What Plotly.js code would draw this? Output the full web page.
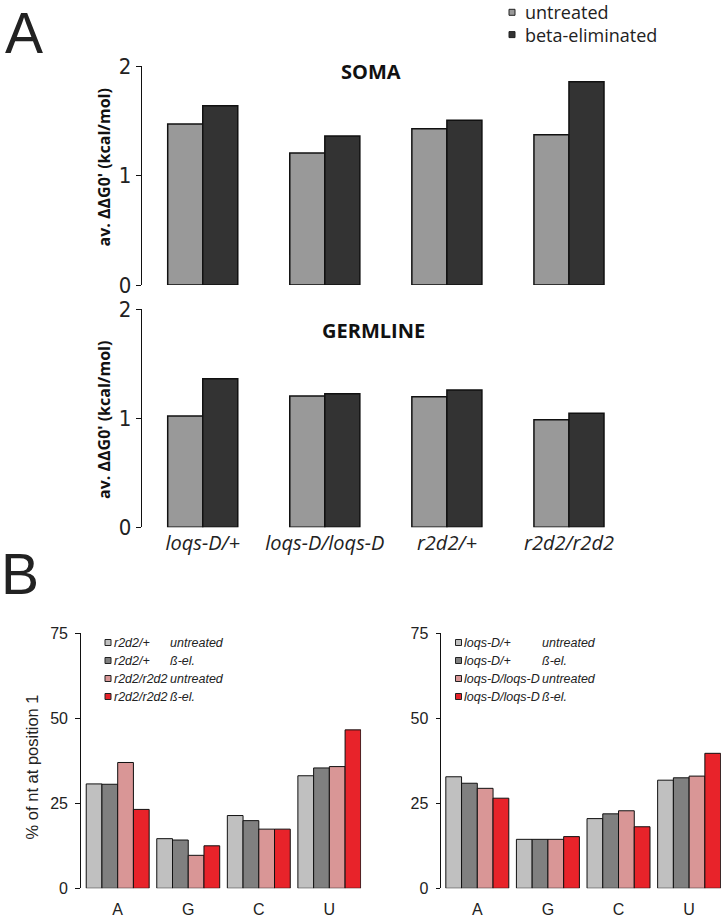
<!DOCTYPE html>
<html>
<head>
<meta charset="utf-8">
<script src="https://cdn.plot.ly/plotly-3.0.1.min.js"></script>
<style>html,body{margin:0;padding:0;background:#fff;}#chart{width:726px;height:918px;}</style>
</head>
<body>
<div id="chart"></div>
<script>
// ---------- data ----------
const genotypesA = ['loqs-D/+', 'loqs-D/loqs-D', 'r2d2/+', 'r2d2/r2d2'];
const somaUntreated = [1.470, 1.205, 1.427, 1.373];
const somaBeta      = [1.638, 1.361, 1.504, 1.857];
const germUntreated = [1.021, 1.205, 1.198, 0.987];
const germBeta      = [1.363, 1.226, 1.260, 1.046];
const yTicksA = [0, 1, 2];

const nucleotides = ['A', 'G', 'C', 'U'];
const r2d2HetUntreated = [30.7, 14.6, 21.4, 33.1];
const r2d2HetBeta      = [30.6, 14.2, 19.9, 35.4];
const r2d2MutUntreated = [37.0, 9.7, 17.4, 35.8];
const r2d2MutBeta      = [23.2, 12.5, 17.4, 46.6];
const loqsHetUntreated = [32.8, 14.4, 20.5, 31.8];
const loqsHetBeta      = [30.9, 14.4, 21.9, 32.5];
const loqsMutUntreated = [29.4, 14.4, 22.8, 33.0];
const loqsMutBeta      = [26.5, 15.2, 18.1, 39.7];
const yTicksB = [0, 25, 50, 75];

const legendA = ['untreated', 'beta-eliminated'];
const legendLeftGeno = ['r2d2/+', 'r2d2/+', 'r2d2/r2d2', 'r2d2/r2d2'];
const legendRightGeno = ['loqs-D/+', 'loqs-D/+', 'loqs-D/loqs-D', 'loqs-D/loqs-D'];
const legendTreat = ['untreated', 'ß-el.', 'untreated', 'ß-el.'];

// ---------- styles ----------
const W = 726, H = 918;
const px = x => x / W;
const py = y => 1 - y / H;
const colA = ['#999999', '#333333'];
const colB = ['#c0c0c0', '#808080', '#d99696', '#e8232a'];
const narrow = "'Liberation Sans Narrow', 'DejaVu Sans Condensed', 'Liberation Sans', sans-serif";
const open = "'Open Sans', sans-serif";
const arial = "'Liberation Sans', Arial, sans-serif";

const wA = 0.287;
function barA(x, y, i, ax) {
  return {type: 'bar', x: x, y: y, xaxis: 'x' + ax, yaxis: 'y' + ax,
    width: wA, offset: i === 0 ? -wA : 0, showlegend: false,
    name: legendA[i],
    marker: {color: colA[i], line: {color: '#111111', width: 1.5}}, cliponaxis: false};
}
const wB = 0.223;
function barB(x, y, i, ax, name) {
  return {type: 'bar', x: x, y: y, xaxis: 'x' + ax, yaxis: 'y' + ax,
    width: wB, offset: -2 * wB + i * wB, showlegend: false, name: name,
    marker: {color: colB[i], line: {color: '#111111', width: 1}}, cliponaxis: false};
}

const traces = [
  barA(genotypesA, somaUntreated, 0, ''),
  barA(genotypesA, somaBeta, 1, ''),
  barA(genotypesA, germUntreated, 0, '2'),
  barA(genotypesA, germBeta, 1, '2'),
  barB(nucleotides, r2d2HetUntreated, 0, '3', 'r2d2/+ untreated'),
  barB(nucleotides, r2d2HetBeta, 1, '3', 'r2d2/+ ß-el.'),
  barB(nucleotides, r2d2MutUntreated, 2, '3', 'r2d2/r2d2 untreated'),
  barB(nucleotides, r2d2MutBeta, 3, '3', 'r2d2/r2d2 ß-el.'),
  barB(nucleotides, loqsHetUntreated, 0, '4', 'loqs-D/+ untreated'),
  barB(nucleotides, loqsHetBeta, 1, '4', 'loqs-D/+ ß-el.'),
  barB(nucleotides, loqsMutUntreated, 2, '4', 'loqs-D/loqs-D untreated'),
  barB(nucleotides, loqsMutBeta, 3, '4', 'loqs-D/loqs-D ß-el.')
];
traces[0].xaxis = 'x'; traces[0].yaxis = 'y';
traces[1].xaxis = 'x'; traces[1].yaxis = 'y';

const yAxisA = (dom, anchor) => ({domain: dom, anchor: anchor, range: [0, 2], tickvals: yTicksA,
  showline: true, linecolor: '#111', linewidth: 1, ticks: 'outside', ticklen: 5, tickwidth: 1, tickcolor: '#111',
  showgrid: false, zeroline: false, fixedrange: true,
  tickfont: {family: narrow, size: 22, color: '#222'}, ticklabelstandoff: 0});
const yAxisB = (dom, anchor) => ({domain: dom, anchor: anchor, range: [0, 75], tickvals: yTicksB,
  showline: true, linecolor: '#111', linewidth: 1.3, ticks: 'outside', ticklen: 4.5, tickwidth: 1.3, tickcolor: '#111',
  showgrid: false, zeroline: false, fixedrange: true,
  tickfont: {family: arial, size: 16, color: '#222'}, ticklabelstandoff: 4});

const annotations = [];
function ann(text, x, y, opts) {
  annotations.push(Object.assign({text: text, x: px(x), y: py(y), xref: 'paper', yref: 'paper',
    showarrow: false, xanchor: 'center', yanchor: 'middle'}, opts));
}
ann('A', 4, 33.3, {xanchor: 'left', borderpad: 0, font: {family: arial, size: 57, color: '#222'}});
ann('B', 0, 574.3, {xanchor: 'left', borderpad: 0, font: {family: arial, size: 57, color: '#222'}});
ann('<b>SOMA</b>', 371, 71.7, {font: {family: open, size: 20, color: '#111'}});
ann('<b>GERMLINE</b>', 373, 330, {font: {family: open, size: 20, color: '#111'}});
const yTitleA = "<b>av. ΔΔG0' (kcal/mol)</b>";
ann(yTitleA, 104, 167.5, {textangle: -90, font: {family: open, size: 16, color: '#111'}});
ann(yTitleA, 104, 420, {textangle: -90, font: {family: open, size: 16, color: '#111'}});
ann('% of nt at position 1', 31.7, 766.7, {textangle: -90, font: {family: arial, size: 16.5, color: '#222'}});

const shapes = [];
function sq(cx, cy, s, color) {
  shapes.push({type: 'rect', xref: 'paper', yref: 'paper', x0: px(cx - s / 2), x1: px(cx + s / 2),
    y0: py(cy + s / 2), y1: py(cy - s / 2), fillcolor: color, line: {color: '#222', width: 1}});
}
const legAy = [12.3, 34.6];
legendA.forEach((t, i) => {
  sq(512, legAy[i], 6, colA[i]);
  ann(t, 523, legAy[i], {xanchor: 'left', font: {family: open, size: 18, color: '#222'}});
});
const legBy = [642.5, 660.5, 678.5, 696.5];
legendLeftGeno.forEach((g, i) => {
  sq(108, legBy[i], 6, colB[i]);
  ann('<i>' + g + '</i>', 111.5, legBy[i], {xanchor: 'left', font: {family: arial, size: 12.5, color: '#222'}});
  ann('<i>' + legendTreat[i] + '</i>', 167.5, legBy[i], {xanchor: 'left', font: {family: arial, size: 12.5, color: '#222'}});
});
legendRightGeno.forEach((g, i) => {
  sq(458.5, legBy[i], 6, colB[i]);
  ann('<i>' + g + '</i>', 462, legBy[i], {xanchor: 'left', font: {family: arial, size: 12.5, color: '#222'}});
  ann('<i>' + legendTreat[i] + '</i>', 539.5, legBy[i], {xanchor: 'left', font: {family: arial, size: 12.5, color: '#222'}});
});

const layout = {
  width: W, height: H, margin: {l: 0, r: 0, t: 0, b: 0},
  paper_bgcolor: '#ffffff', plot_bgcolor: 'rgba(0,0,0,0)',
  barmode: 'overlay', showlegend: false,
  xaxis: {domain: [px(141.7), px(630)], anchor: 'y', type: 'category', range: [-0.5, 3.5],
    showline: false, showticklabels: false, ticks: '', showgrid: false, zeroline: false, fixedrange: true},
  yaxis: yAxisA([py(285), py(66)], 'x'),
  xaxis2: {domain: [px(141.7), px(630)], anchor: 'y2', type: 'category', range: [-0.5, 3.5],
    showline: false, ticks: '', showgrid: false, zeroline: false, fixedrange: true,
    tickfont: {family: open, size: 20, color: '#222', style: 'italic'}, ticklabelstandoff: 2},
  yaxis2: yAxisA([py(527.3), py(309.3)], 'x2'),
  xaxis3: {domain: [px(81), px(361.1)], anchor: 'y3', type: 'category', range: [-0.52, 3.45],
    showline: false, ticks: '', showgrid: false, zeroline: false, fixedrange: true,
    tickfont: {family: arial, size: 16, color: '#222'}, ticklabelstandoff: 10},
  yaxis3: yAxisB([py(888.3), py(633.3)], 'x3'),
  xaxis4: {domain: [px(441.3), px(720.9)], anchor: 'y4', type: 'category', range: [-0.51, 3.45],
    showline: false, ticks: '', showgrid: false, zeroline: false, fixedrange: true,
    tickfont: {family: arial, size: 16, color: '#222'}, ticklabelstandoff: 10},
  yaxis4: yAxisB([py(888.3), py(633.3)], 'x4'),
  annotations: annotations, shapes: shapes
};

Plotly.newPlot('chart', traces, layout, {displayModeBar: false, staticPlot: true});
</script>
</body>
</html>
